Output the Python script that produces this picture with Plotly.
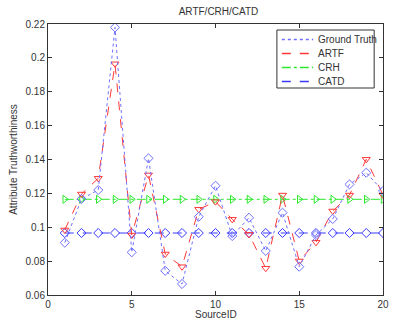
import plotly.graph_objects as go

source_ids = list(range(1, 21))
ground_truth = [0.0909, 0.1167, 0.1220, 0.2180, 0.0852, 0.1407, 0.0743, 0.0665, 0.1062, 0.1245,
                0.0948, 0.1056, 0.0860, 0.1086, 0.0767, 0.0954, 0.1049, 0.1253, 0.1322, 0.1214]
artf = [0.0984, 0.1196, 0.1289, 0.1965, 0.0954, 0.1309, 0.0842, 0.0767, 0.1106, 0.1151,
        0.1047, 0.0958, 0.0758, 0.1190, 0.0801, 0.0911, 0.1096, 0.1190, 0.1401, 0.1190]
crh = [0.1165] * 20
catd = [0.0966] * 20

y_ticks = [0.06, 0.08, 0.1, 0.12, 0.14, 0.16, 0.18, 0.2, 0.22]
y_tick_text = ["0.06", "0.08", "0.1", "0.12", "0.14", "0.16", "0.18", "0.2", "0.22"]
x_ticks = [0, 5, 10, 15, 20]

series_names = ["Ground Truth", "ARTF", "CRH", "CATD"]
series_values = [ground_truth, artf, crh, catd]
series_colors = ["#6f6fff", "#ff3838", "#2ee82e", "#3a3aff"]
series_dashes = ["dot", "dash", "dashdot", "dash"]
series_symbols = ["diamond-open", "triangle-down-open", "triangle-right-open", "diamond-open"]

W, H = 394, 321
ML, MR, MT, MB = 48, 5, 24, 26
PW, PH = W - ML - MR, H - MT - MB
FONT = "Liberation Sans, Arial, sans-serif"
TXT = "#333333"


def px_x(px):
    return (px - ML) / PW


def px_y(py):
    return (H - MB - py) / PH


fig = go.Figure()
for i in [3, 2, 1, 0]:
    fig.add_trace(go.Scatter(
        x=source_ids, y=series_values[i], mode="lines+markers", name=series_names[i],
        showlegend=False, hoverinfo="skip",
        line=dict(color=series_colors[i], dash=series_dashes[i], width=1),
        marker=dict(symbol=series_symbols[i], size=7, color=series_colors[i],
                    line=dict(width=1, color=series_colors[i])),
    ))

rows = [39.5, 53.5, 67.5, 81.5]
for i in range(4):
    fig.add_trace(go.Scatter(
        x=[px_x(286), px_x(318)], y=[px_y(rows[i]), px_y(rows[i])], mode="lines",
        xaxis="x2", yaxis="y2", showlegend=False, hoverinfo="skip",
        line=dict(color=series_colors[i], dash=series_dashes[i], width=1.5),
    ))

axis_common = dict(
    showgrid=False, zeroline=False, showline=True, linecolor=TXT, linewidth=1,
    mirror="ticks", ticks="inside", ticklen=4, tickcolor=TXT,
    ticklabeloverflow="allow",
    tickfont=dict(family=FONT, size=10, color=TXT),
)
fig.update_layout(
    xaxis=dict(range=[0, 20], tickvals=x_ticks, **axis_common),
    yaxis=dict(range=[0.06, 0.22], tickvals=y_ticks, ticktext=y_tick_text,
               title=dict(text="Attribute Truthworthiness", standoff=6,
                          font=dict(size=10, color=TXT)), **axis_common),
    xaxis2=dict(range=[0, 1], overlaying="x", visible=False, fixedrange=True),
    yaxis2=dict(range=[0, 1], overlaying="y", visible=False, fixedrange=True),
)

shapes = [dict(type="rect", xref="paper", yref="paper",
               x0=px_x(281), x1=px_x(380), y0=px_y(88), y1=px_y(30),
               line=dict(color=TXT, width=1), fillcolor="white", layer="between")]
annotations = []
for i in range(4):
    annotations.append(dict(text=series_names[i], xref="paper", yref="paper",
                            x=px_x(321), y=px_y(rows[i]),
                            xanchor="left", yanchor="middle", showarrow=False,
                            font=dict(family=FONT, size=10, color=TXT)))
annotations.append(dict(text="SourceID", xref="paper", yref="paper", x=0.5, y=px_y(314),
                        xanchor="center", yanchor="middle", showarrow=False,
                        font=dict(family=FONT, size=10, color=TXT)))

fig.update_layout(
    width=W, height=H,
    margin=dict(l=ML, r=MR, t=MT, b=MB),
    paper_bgcolor="white", plot_bgcolor="white",
    font=dict(family=FONT, size=10, color=TXT),
    showlegend=False,
    hovermode=False,
    title=dict(text="ARTF/CRH/CATD", x=(ML + W - MR) / 2 / W, xanchor="center",
               y=1 - 11 / H, yanchor="middle", font=dict(size=10, color=TXT)),
    shapes=shapes,
    annotations=annotations,
)

fig.write_html("out.html", config={"displayModeBar": False},
               post_script="document.body.style.margin='0';document.body.style.overflow='hidden';")
